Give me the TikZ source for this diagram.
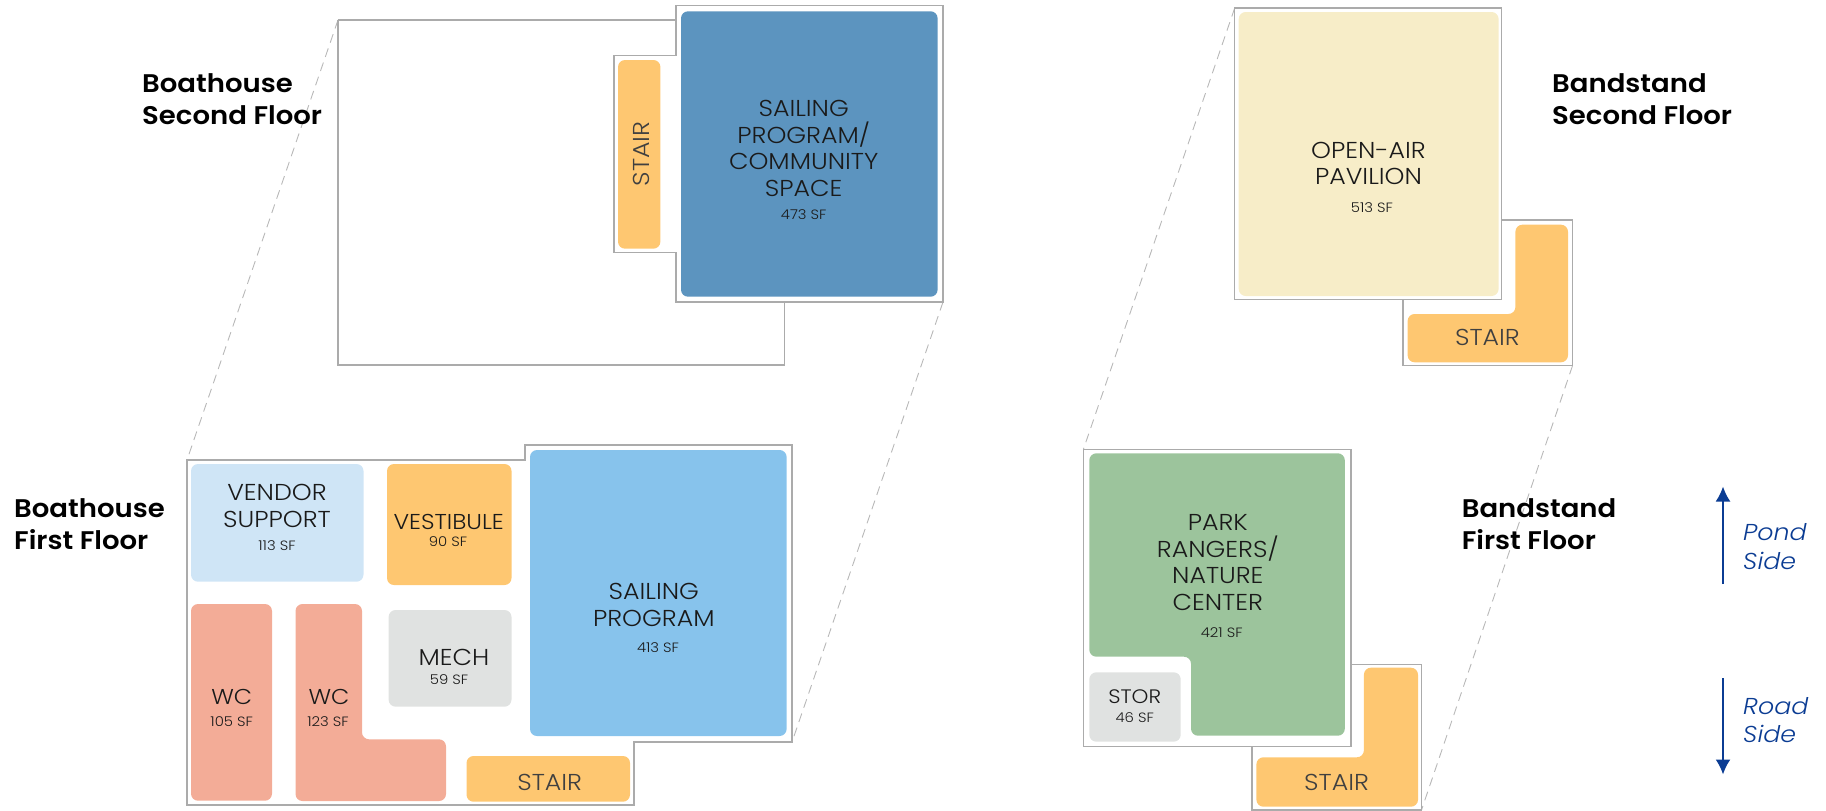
\documentclass[tikz,border=0pt]{standalone}
\usepackage{fontspec}
\usetikzlibrary{arrows.meta}
\newfontfamily\roomfont{Poppins}[UprightFont={* Light},ItalicFont={* Light Italic},FakeStretch=1.1]
\newfontfamily\headfont{Poppins}[UprightFont={* SemiBold},FakeStretch=1.08]
\definecolor{wallc}{HTML}{ABABAB}
\definecolor{dashc}{HTML}{B8B8B8}
\definecolor{vendorc}{HTML}{CFE5F6}
\definecolor{stairc}{HTML}{FEC771}
\definecolor{sailc}{HTML}{87C3EC}
\definecolor{wcc}{HTML}{F3AC97}
\definecolor{mechc}{HTML}{E0E2E1}
\definecolor{commc}{HTML}{5C94BF}
\definecolor{creamc}{HTML}{F7EDC8}
\definecolor{greenc}{HTML}{9CC49C}
\definecolor{navyc}{HTML}{0B3C93}
\definecolor{inkc}{HTML}{1A1A1A}
\definecolor{stairtxt}{HTML}{404040}
\tikzset{
  wall/.style={draw=wallc,line width=1.2pt,line join=miter},
  room/.style={rounded corners=7pt},
  linkline/.style={draw=dashc,line width=0.9pt,dash pattern=on 9pt off 6pt},
  roomtxt/.style={anchor=base,inner sep=0pt,yshift=-8pt,text=inkc,font=\roomfont\fontsize{23}{26}\selectfont},
  smalltxt/.style={anchor=base,inner sep=0pt,yshift=-7.5pt,text=inkc,font=\roomfont\fontsize{21.5}{24}\selectfont},
  stortxt/.style={anchor=base,inner sep=0pt,yshift=-7pt,text=inkc,font=\roomfont\fontsize{19.5}{22}\selectfont},
  areatxt/.style={anchor=base,inner sep=0pt,yshift=-5pt,text=inkc,font=\roomfont\fontsize{13.5}{16}\selectfont},
  stairtxtb/.style={roomtxt,text=stairtxt},
  headtxt/.style={anchor=base west,inner sep=0pt,yshift=-9.5pt,text=black,font=\headfont\fontsize{25.5}{28}\selectfont},
  sidetxt/.style={anchor=base west,inner sep=0pt,yshift=-8pt,text=navyc,font=\roomfont\itshape\fontsize{23}{26}\selectfont},
  sidearrow/.style={draw=navyc,line width=2pt,-{Latex[length=15pt,width=15pt]}}
}
\begin{document}
\begin{tikzpicture}[x=1pt,y=-1pt]
\useasboundingbox (0,0) rectangle (1826,811);
% named corners for the linking dashed lines
\coordinate (bh2tl) at (338,20);
\coordinate (bh1tl) at (187,460);
\coordinate (bh2br) at (943,302);
\coordinate (bh1br) at (792,742);
\coordinate (bs2tl) at (1234.7,8);
\coordinate (bs1tl) at (1083.4,449.3);
\coordinate (bs2br) at (1572.5,365.7);
\coordinate (bs1br) at (1421.5,810);
\draw[linkline] (bh2tl) -- (bh1tl);
\draw[linkline] (bh2br) -- (bh1br);
\draw[linkline] (bs2tl) -- (bs1tl);
\draw[linkline] (bs2br) -- (bs1br);
% walls
\draw[wall] (338,20) -- (676,20) -- (676,5.7) -- (943,5.7) -- (943,302) -- (676,302) -- (676,252.7) -- (614,252.7) -- (614,55.7) -- (676,55.7) -- (676,20);
\draw[wall] (338,20) -- (338,365) -- (784.5,365) -- (784.5,302);
\draw[wall] (187,460) -- (525,460) -- (525,445) -- (792,445) -- (792,742) -- (634,742) -- (634,805) -- (187,805) -- cycle;
\draw[wall] (1234.7,8) rectangle (1501.8,299.7);
\draw[wall] (1501.8,220) -- (1572.5,220) -- (1572.5,365.7) -- (1403,365.7) -- (1403,299.7);
\draw[wall] (1083.4,449.3) rectangle (1351,746.7);
\draw[wall] (1351,664.7) -- (1421.5,664.7) -- (1421.5,810) -- (1252,810) -- (1252,746.7);
% boathouse second floor rooms
\fill[room,commc] (681,11.3) rectangle (937.6,296.7);
\fill[room,stairc] (618,60) rectangle (660.4,248.7);
% boathouse first floor rooms
\fill[room,vendorc] (191,464) rectangle (363.5,581.7);
\fill[room,stairc] (387,464) rectangle (511.5,585);
\fill[room,sailc] (530,450) rectangle (786.6,736);
\fill[room,wcc] (191,604) rectangle (272,800.7);
\fill[room,wcc] (295.5,604) -- (362,604) -- (362,739.3) -- (446,739.3) -- (446,801) -- (295.5,801) -- cycle;
\fill[room,mechc] (388.6,610) rectangle (511.5,706.7);
\fill[room,stairc] (466.5,756) rectangle (630,801.7);
% bandstand second floor rooms
\fill[room,creamc] (1238.7,12) rectangle (1498.6,296);
\fill[room,stairc] (1515.4,224.7) -- (1568,224.7) -- (1568,362.3) -- (1407.6,362.3) -- (1407.6,314) -- (1515.4,314) -- cycle;
% bandstand first floor rooms
\fill[room,greenc] (1089.3,453.3) -- (1344.8,453.3) -- (1344.8,735.7) -- (1191,735.7) -- (1191,656.7) -- (1089.3,656.7) -- cycle;
\fill[room,mechc] (1089.3,672.3) rectangle (1180.7,741.7);
\fill[room,stairc] (1363.9,667.7) -- (1418,667.7) -- (1418,806.7) -- (1256.4,806.7) -- (1256.4,757.3) -- (1363.9,757.3) -- cycle;
% heads
\node[headtxt] (h1a) at (142,82.7) {Boathouse};
\node[headtxt] (h1b) at (142,114.5) {Second Floor};
\node[headtxt] (h2a) at (14,507.7) {Boathouse};
\node[headtxt] (h2b) at (14,540) {First Floor};
\node[headtxt] (h3a) at (1552,82.7) {Bandstand};
\node[headtxt] (h3b) at (1552,115) {Second Floor};
\node[headtxt] (h4a) at (1461.6,507.7) {Bandstand};
\node[headtxt] (h4b) at (1461.6,540) {First Floor};
% boathouse second floor labels
\node[roomtxt,text=stairtxt,rotate=90] (t1) at (649,146) {STAIR};
\node[roomtxt] (t2a) at (803.7,108) {SAILING};
\node[roomtxt] (t2b) at (803.7,135) {PROGRAM/};
\node[roomtxt] (t2c) at (803.7,161.7) {COMMUNITY};
\node[roomtxt] (t2d) at (803.7,188.3) {SPACE};
\node[areatxt] (t2e) at (803.7,214) {473 SF};
% boathouse first floor labels
\node[roomtxt] (t3a) at (277,492.7) {VENDOR};
\node[roomtxt] (t3b) at (277,519) {SUPPORT};
\node[areatxt] (t3c) at (277,545) {113 SF};
\node[smalltxt] (t4a) at (448.7,522) {VESTIBULE};
\node[areatxt] (t4b) at (448,541.7) {90 SF};
\node[roomtxt] (t5a) at (653.8,591.7) {SAILING};
\node[roomtxt] (t5b) at (653.8,618.3) {PROGRAM};
\node[areatxt] (t5c) at (658,647) {413 SF};
\node[roomtxt] (t6a) at (454,657) {MECH};
\node[areatxt] (t6b) at (449,679) {59 SF};
\node[smalltxt] (t7a) at (231.7,697) {WC};
\node[areatxt] (t7b) at (231.7,721.7) {105 SF};
\node[smalltxt] (t8a) at (329,697) {WC};
\node[areatxt] (t8b) at (328,721.7) {123 SF};
\node[stairtxtb] (t9) at (549.7,782) {STAIR};
% bandstand labels
\node[roomtxt] (t10a) at (1368.5,150) {OPEN-AIR};
\node[roomtxt] (t10b) at (1368.5,176.7) {PAVILION};
\node[areatxt] (t10c) at (1372,207) {513 SF};
\node[stairtxtb] (t11) at (1487.4,337) {STAIR};
\node[roomtxt] (t12a) at (1217.8,522.3) {PARK};
\node[roomtxt] (t12b) at (1217.8,549) {RANGERS/};
\node[roomtxt] (t12c) at (1217.8,575.7) {NATURE};
\node[roomtxt] (t12d) at (1217.8,602.7) {CENTER};
\node[areatxt] (t12e) at (1221.7,632) {421 SF};
\node[stortxt] (t13a) at (1134.7,696.7) {STOR};
\node[areatxt] (t13b) at (1134.7,717.7) {46 SF};
\node[stairtxtb] (t14) at (1336.5,782) {STAIR};
% orientation
\coordinate (pondfoot) at (1723,584);
\coordinate (pondtip) at (1723,486.5);
\coordinate (roadfoot) at (1723,678);
\coordinate (roadtip) at (1723,774.5);
\draw[sidearrow] (pondfoot) -- (pondtip);
\draw[sidearrow] (roadfoot) -- (roadtip);
\node[sidetxt] (s1a) at (1743,532.7) {Pond};
\node[sidetxt] (s1b) at (1743,561.7) {Side};
\node[sidetxt] (s2a) at (1743,706) {Road};
\node[sidetxt] (s2b) at (1743,734.7) {Side};
\end{tikzpicture}
\end{document}
